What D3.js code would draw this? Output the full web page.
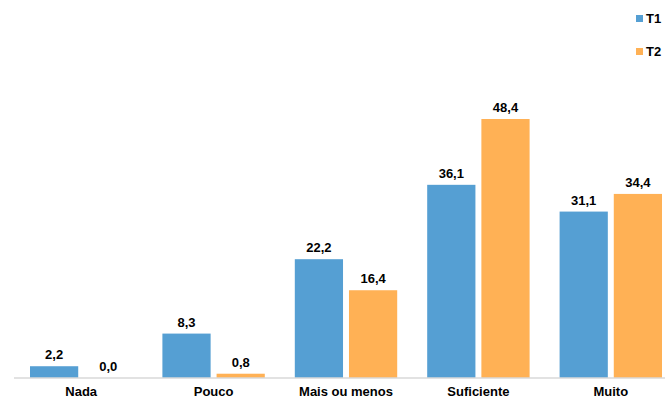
<!DOCTYPE html>
<html>
<head>
<meta charset="utf-8">
<script src="https://cdn.jsdelivr.net/npm/d3@7"></script>
<style>
  html, body { margin: 0; padding: 0; background: #fff; }
  svg { display: block; font-family: "Liberation Sans", Arial, sans-serif; }
</style>
</head>
<body>
<svg id="chart" width="665" height="400"></svg>
<script>
const categories = ["Nada", "Pouco", "Mais ou menos", "Suficiente", "Muito"];
const seriesNames = ["T1", "T2"];
const t1Values = [2.2, 8.3, 22.2, 36.1, 31.1];
const t2Values = [0.0, 0.8, 16.4, 48.4, 34.4];
const colors = ["#559fd3", "#ffb155"];

const svg = d3.select("#chart");
const baseY = 378;

const x0 = d3.scaleBand().domain(categories).range([15, 677]).paddingInner(0).paddingOuter(0);
const x1 = d3.scaleBand().domain(seriesNames).range([15, x0.bandwidth() - 15]).paddingInner(0.11);
const y = d3.scaleLinear().domain([0, 48.4]).range([baseY, 119]);

const fmt = v => v.toFixed(1).replace(".", ",");

const rows = categories.map((c, i) => ({ cat: c, vals: [t1Values[i], t2Values[i]] }));

const groups = svg.selectAll("g.cat").data(rows).join("g")
  .attr("class", "cat")
  .attr("transform", d => `translate(${x0(d.cat)},0)`);

groups.selectAll("rect").data(d => d.vals.map((v, j) => ({ v, s: seriesNames[j], j })))
  .join("rect")
  .attr("x", d => x1(d.s))
  .attr("width", x1.bandwidth())
  .attr("y", d => y(d.v))
  .attr("height", d => baseY - y(d.v))
  .attr("fill", d => colors[d.j]);

groups.selectAll("text.val").data(d => d.vals.map((v, j) => ({ v, s: seriesNames[j], j })))
  .join("text")
  .attr("class", "val")
  .attr("x", d => x1(d.s) + x1.bandwidth() / 2)
  .attr("y", d => y(d.v) - 7)
  .attr("text-anchor", "middle")
  .attr("font-size", 13)
  .attr("font-weight", "bold")
  .attr("fill", "#000")
  .text(d => fmt(d.v));

// baseline axis with category labels
const xAxis = d3.axisBottom(x0).tickSize(0).tickPadding(9);
const axisG = svg.append("g").attr("transform", `translate(0,${baseY})`).call(xAxis);
axisG.select(".domain").attr("stroke", "#d9d9d9").attr("stroke-width", 1.5)
  .attr("d", `M14,0H665`);
axisG.selectAll("text")
  .attr("font-size", 13)
  .attr("font-weight", "bold")
  .attr("fill", "#000")
  .attr("font-family", "Liberation Sans, Arial, sans-serif");

// legend
const legend = svg.append("g").selectAll("g").data(seriesNames).join("g")
  .attr("transform", (d, i) => `translate(636,${15 + i * 33})`);
legend.append("rect").attr("width", 7).attr("height", 7).attr("fill", (d, i) => colors[i]);
legend.append("text").attr("x", 10).attr("y", 8)
  .attr("font-size", 13).attr("font-weight", "bold").attr("fill", "#000")
  .text(d => d);
</script>
</body>
</html>
